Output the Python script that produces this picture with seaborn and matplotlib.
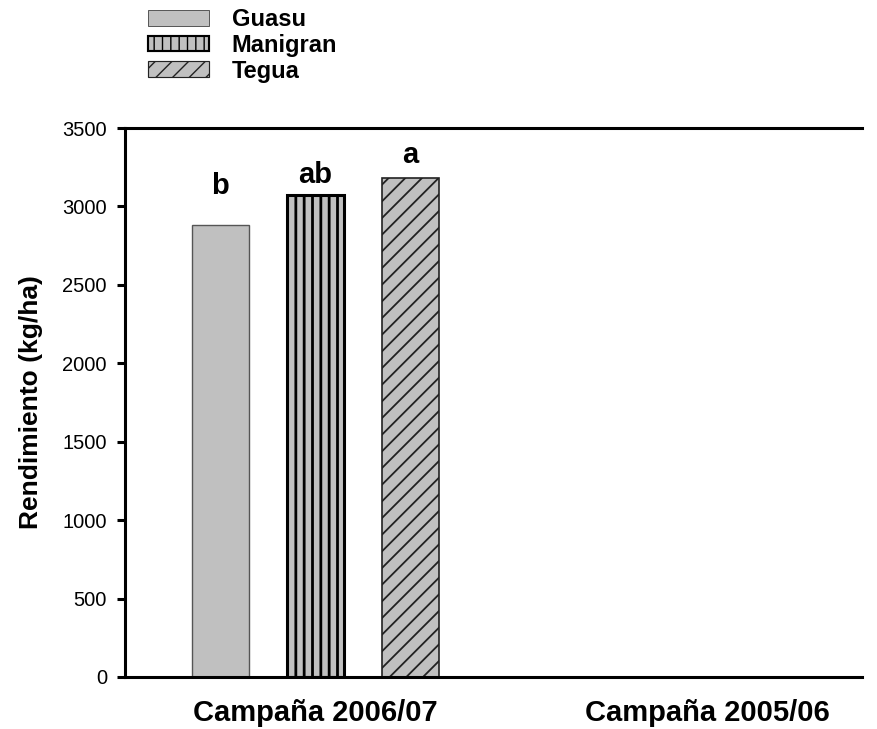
import matplotlib
matplotlib.use("Agg")
import matplotlib.pyplot as plt
import seaborn as sns
import pandas as pd
from matplotlib.patches import Patch

campaigns = ["Campaña 2006/07", "Campaña 2005/06"]
varieties = ["Guasu", "Manigran", "Tegua"]
yields_2006 = [2880, 3075, 3180]
letters = ["b", "ab", "a"]
yticks = [0, 500, 1000, 1500, 2000, 2500, 3000, 3500]

df = pd.DataFrame({
    "Campaña": [campaigns[0]] * 3,
    "Variedad": varieties,
    "Rendimiento": yields_2006,
})
df["Campaña"] = pd.Categorical(df["Campaña"], categories=campaigns)

sns.set_style("white")
plt.rcParams["font.family"] = ["Liberation Sans", "DejaVu Sans"]
for k in ["text.color", "axes.labelcolor", "xtick.color", "ytick.color", "axes.edgecolor"]:
    plt.rcParams[k] = "black"

fig = plt.figure(figsize=(8.77, 7.29), dpi=100)
ax = fig.add_axes([125 / 877, 1 - 677 / 729, (862 - 125) / 877, (677 - 128) / 729])

sns.barplot(data=df, x="Campaña", y="Rendimiento", hue="Variedad",
            order=campaigns, hue_order=varieties, width=0.727, gap=0.4,
            palette=["#c0c0c0"] * 3, legend=False, ax=ax, errorbar=None)

styles = {
    "Guasu": dict(hatch="", edgecolor="#555555", lw=1.0, hlw=1.0),
    "Manigran": dict(hatch="||", edgecolor="black", lw=2.2, hlw=2.0),
    "Tegua": dict(hatch="//", edgecolor="#222222", lw=1.2, hlw=1.3),
}
for cont, var in zip(ax.containers, varieties):
    st = styles[var]
    for bar in cont:
        bar.set_facecolor("#c0c0c0")
        bar.set_edgecolor(st["edgecolor"])
        bar.set_linewidth(st["lw"])
        bar.set_hatch(st["hatch"])
        if hasattr(bar, "set_hatch_linewidth"):
            bar.set_hatch_linewidth(st["hlw"])

offsets = [200, 77, 100]
for cont, lab, off in zip(ax.containers, letters, offsets):
    for bar in cont:
        h = bar.get_height()
        if h and h > 0:
            ax.text(bar.get_x() + bar.get_width() / 2, h + off, lab,
                    ha="center", va="baseline", fontsize=21, fontweight="bold")

ax.set_xlim(-0.485, 1.395)
ax.set_ylim(0, 3500)
ax.set_yticks(yticks)
ax.set_yticklabels([str(t) for t in yticks], fontsize=14.5)
ax.set_xticks([0, 1])
ax.set_xticklabels(campaigns, fontsize=21, fontweight="bold")
ax.tick_params(axis="x", length=0, pad=16)
ax.tick_params(axis="y", direction="out", length=6, width=2.2, left=True, pad=7)
ax.set_xlabel("")
ax.set_ylabel("Rendimiento (kg/ha)", fontsize=19, fontweight="bold", labelpad=14)

for side in ["left", "bottom", "top"]:
    ax.spines[side].set_visible(True)
    ax.spines[side].set_linewidth(2.2)
    ax.spines[side].set_color("black")
ax.spines["right"].set_visible(False)

handles = []
for var in varieties:
    st = styles[var]
    p = Patch(facecolor="#c0c0c0", edgecolor=st["edgecolor"], hatch=st["hatch"],
              linewidth=st["lw"] * 0.7, label=var)
    handles.append(p)
leg = fig.legend(handles=handles, loc="upper left", bbox_to_anchor=(148 / 877, 1 - 8 / 729),
                 frameon=False, prop={"weight": "bold", "size": 17},
                 handlelength=2.6, handleheight=0.65, labelspacing=0.12, handletextpad=0.95,
                 borderaxespad=0, borderpad=0)

fig.savefig("out.png", dpi=100)
